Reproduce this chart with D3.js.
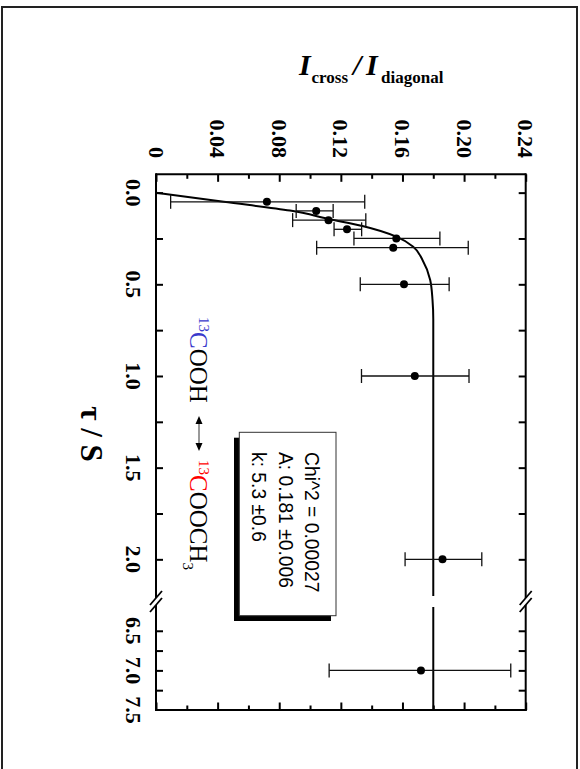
<!DOCTYPE html>
<html><head><meta charset="utf-8">
<script src="https://cdn.jsdelivr.net/npm/d3@7"></script>
<style>body{margin:0;background:#fff}</style>
</head><body>
<svg id="c" width="580" height="769" xmlns="http://www.w3.org/2000/svg"></svg>
<script>
// ---- data ----
const tau      = [0.05, 0.10, 0.15, 0.20, 0.25, 0.30, 0.50, 1.00, 2.00, 7.00];
const ratio    = [0.072, 0.104, 0.112, 0.124, 0.156, 0.154, 0.161, 0.168, 0.186, 0.172];
const errLow   = [0.0095, 0.091, 0.0887, 0.1156, 0.1285, 0.1043, 0.1326, 0.1334, 0.1617, 0.1124];
const errHigh  = [0.1355, 0.115, 0.1362, 0.1335, 0.1843, 0.2027, 0.1903, 0.2032, 0.2115, 0.2303];
const fitTau   = [0, 0.05, 0.098, 0.145, 0.182, 0.24, 0.295, 0.367, 0.476, 0.585, 0.69, 1.0, 2.2];
const fitRatio = [0, 0.044, 0.087, 0.113, 0.134, 0.156, 0.167, 0.173, 0.178, 0.1795, 0.180, 0.180, 0.180];
const fitTau2   = [6.2, 7.5];
const fitRatio2 = [0.180, 0.180];
const ratioTickValues = [0, 0.04, 0.08, 0.12, 0.16, 0.20, 0.24];
const ratioTickLabels = ["0", "0.04", "0.08", "0.12", "0.16", "0.20", "0.24"];
const ratioMinor = [0.02, 0.06, 0.10, 0.14, 0.18, 0.22];
const tauTickValues = [0, 0.5, 1.0, 1.5, 2.0, 6.5, 7.0, 7.5];
const tauTickLabels = ["0.0", "0.5", "1.0", "1.5", "2.0", "6.5", "7.0", "7.5"];
const tauMinor1 = [0.25, 0.75, 1.25, 1.75];
const tauMinor2 = [6.75, 7.25];
const legendLines = ["Chi^2 = 0.00027", "A: 0.181 \u00b10.006", "k: 5.3 \u00b10.6"];

// ---- layout ----
const L = 156, R = 525.7, T = 174.3, B = 710;
const x = d3.scaleLinear().domain([0, 0.24]).range([L, R]);
const y1 = d3.scaleLinear().domain([-0.1, 2.2]).range([T, 596]);
const y2 = d3.scaleLinear().domain([6.2, 7.5]).range([607, B]);
const y = t => (t < 4 ? y1(t) : y2(t));

const svg = d3.select("#c");
const INK = "#000";

// outer border
svg.append("rect").attr("x", 2).attr("y", 7).attr("width", 575).attr("height", 800)
  .attr("fill", "none").attr("stroke", "#222").attr("stroke-width", 2);

// title
const title = svg.append("text").attr("font-family", "Liberation Serif").attr("font-weight", "bold").attr("fill", INK);
title.append("tspan").attr("x", 299).attr("y", 75).attr("font-size", 30).attr("font-style", "italic").text("I");
title.append("tspan").attr("x", 311.5).attr("y", 83).attr("font-size", 17).text("cross");
title.append("tspan").attr("x", 353).attr("y", 75).attr("font-size", 30).attr("font-style", "italic").text("/");
title.append("tspan").attr("x", 366).attr("y", 75).attr("font-size", 30).attr("font-style", "italic").text("I");
title.append("tspan").attr("x", 381).attr("y", 83).attr("font-size", 17).text("diagonal");

// ticks via d3 axes (inward)
function strip(g){ g.select(".domain").remove(); g.selectAll("text").remove(); g.selectAll("line").attr("stroke", INK).attr("stroke-width", 2); }
svg.append("g").attr("transform", `translate(0,${T})`).call(d3.axisTop(x).tickValues(ratioTickValues).tickSize(-7.5)).call(strip);
svg.append("g").attr("transform", `translate(0,${T})`).call(d3.axisTop(x).tickValues(ratioMinor).tickSize(-4.5)).call(strip);
svg.append("g").attr("transform", `translate(0,${B})`).call(d3.axisBottom(x).tickValues(ratioTickValues).tickSize(-7.5)).call(strip);
svg.append("g").attr("transform", `translate(0,${B})`).call(d3.axisBottom(x).tickValues(ratioMinor).tickSize(-4.5)).call(strip);
const yt1 = [0, 0.5, 1.0, 1.5, 2.0].concat(tauMinor1);
const yt2 = [6.5, 7.0].concat(tauMinor2);
[[y1, yt1], [y2, yt2]].forEach(([sc, vals]) => {
  svg.append("g").attr("transform", `translate(${L},0)`).call(d3.axisLeft(sc).tickValues(vals).tickSize(-7)).call(strip);
  svg.append("g").attr("transform", `translate(${R},0)`).call(d3.axisRight(sc).tickValues(vals).tickSize(-7)).call(strip);
});

// frame with break
const frame = svg.append("g").attr("stroke", INK).attr("stroke-width", 2).attr("fill", "none");
frame.append("line").attr("x1", L).attr("x2", R).attr("y1", T).attr("y2", T);
frame.append("line").attr("x1", L - 1).attr("x2", R + 1).attr("y1", B).attr("y2", B);
[L, R].forEach(xx => {
  frame.append("line").attr("x1", xx).attr("x2", xx).attr("y1", T - 1).attr("y2", y1(2.2) + 2);
  frame.append("line").attr("x1", xx).attr("x2", xx).attr("y1", y2(6.2) - 2).attr("y2", B + 1);
  [y1(2.2) + 2, y2(6.2) - 2].forEach(yy => {
    frame.append("line").attr("x1", xx - 6).attr("y1", yy + 7).attr("x2", xx + 6).attr("y2", yy - 7).attr("stroke-width", 1.8);
  });
});

// tick labels
const lab = svg.append("g").attr("font-family", "Liberation Serif").attr("font-weight", "bold").attr("font-size", 22).attr("fill", INK);
ratioTickValues.forEach((v, i) => {
  lab.append("text").attr("transform", `translate(${x(v)},158) rotate(90)`)
    .attr("text-anchor", "end").attr("dy", "0.34em").text(ratioTickLabels[i]);
});
tauTickValues.forEach((v, i) => {
  lab.append("text").attr("transform", `translate(133,${y(v)}) rotate(90)`)
    .attr("text-anchor", "middle").attr("dy", "0.34em").text(tauTickLabels[i]);
});
svg.append("text").attr("transform", "translate(92,434) rotate(90)")
  .attr("font-family", "Liberation Serif").attr("font-weight", "bold").attr("font-size", 31)
  .attr("text-anchor", "middle").attr("dy", "0.34em").attr("fill", INK).text("\u03c4 / S");

// fit curve
const line = d3.line().x(d => x(d[1])).curve(d3.curveMonotoneY);
svg.append("path").datum(fitTau.map((t, i) => [t, fitRatio[i]]))
  .attr("d", line.y(d => y1(d[0]))).attr("fill", "none").attr("stroke", INK).attr("stroke-width", 2);
svg.append("path").datum(fitTau2.map((t, i) => [t, fitRatio2[i]]))
  .attr("d", line.y(d => y2(d[0]))).attr("fill", "none").attr("stroke", INK).attr("stroke-width", 2);

// error bars + points
const eb = svg.append("g").attr("stroke", "#111").attr("stroke-width", 1.3);
tau.forEach((t, i) => {
  const yy = y(t);
  eb.append("line").attr("x1", x(errLow[i])).attr("x2", x(errHigh[i])).attr("y1", yy).attr("y2", yy);
  [errLow[i], errHigh[i]].forEach(v => eb.append("line").attr("x1", x(v)).attr("x2", x(v)).attr("y1", yy - 7).attr("y2", yy + 7));
});
svg.append("g").selectAll("circle").data(tau).join("circle")
  .attr("cx", (d, i) => x(ratio[i])).attr("cy", d => y(d)).attr("r", 4).attr("fill", INK);

// reaction label
const r1 = svg.append("text").attr("transform", "translate(190,317) rotate(90)")
  .attr("font-family", "Liberation Serif").attr("font-size", 25).attr("fill", INK);
r1.append("tspan").attr("font-size", 15).attr("dy", -9).attr("fill", "#3a3acc").text("13");
r1.append("tspan").attr("dy", 9).attr("fill", "#3a3acc").text("C");
r1.append("tspan").text("OOH");
const r2 = svg.append("text").attr("transform", "translate(190,460) rotate(90)")
  .attr("font-family", "Liberation Serif").attr("font-size", 25).attr("fill", INK);
r2.append("tspan").attr("font-size", 15).attr("dy", -9).attr("fill", "#ff0000").text("13");
r2.append("tspan").attr("dy", 9).attr("fill", "#ff0000").text("C");
r2.append("tspan").text("OOCH");
r2.append("tspan").attr("font-size", 15).attr("dy", 7).text("3");
// double arrow
svg.append("line").attr("x1", 199).attr("x2", 199).attr("y1", 421).attr("y2", 446).attr("stroke", "#777").attr("stroke-width", 1.5);
svg.append("path").attr("d", "M199,416 L195.5,424 L202.5,424 Z M199,451 L195.5,443 L202.5,443 Z").attr("fill", INK);

// legend box
svg.append("rect").attr("x", 234).attr("y", 437.7).attr("width", 97).attr("height", 183.3).attr("fill", INK);
svg.append("rect").attr("x", 239.3).attr("y", 432.3).attr("width", 96.7).attr("height", 183.4)
  .attr("fill", "#fff").attr("stroke", "#333").attr("stroke-width", 1);
const lg = svg.append("g").attr("font-family", "Liberation Sans").attr("font-size", 19.3).attr("fill", INK);
[305, 279, 252].forEach((bx, i) => {
  lg.append("text").attr("transform", `translate(${bx},452) rotate(90)`).text(legendLines[i]);
});
</script>
</body></html>
